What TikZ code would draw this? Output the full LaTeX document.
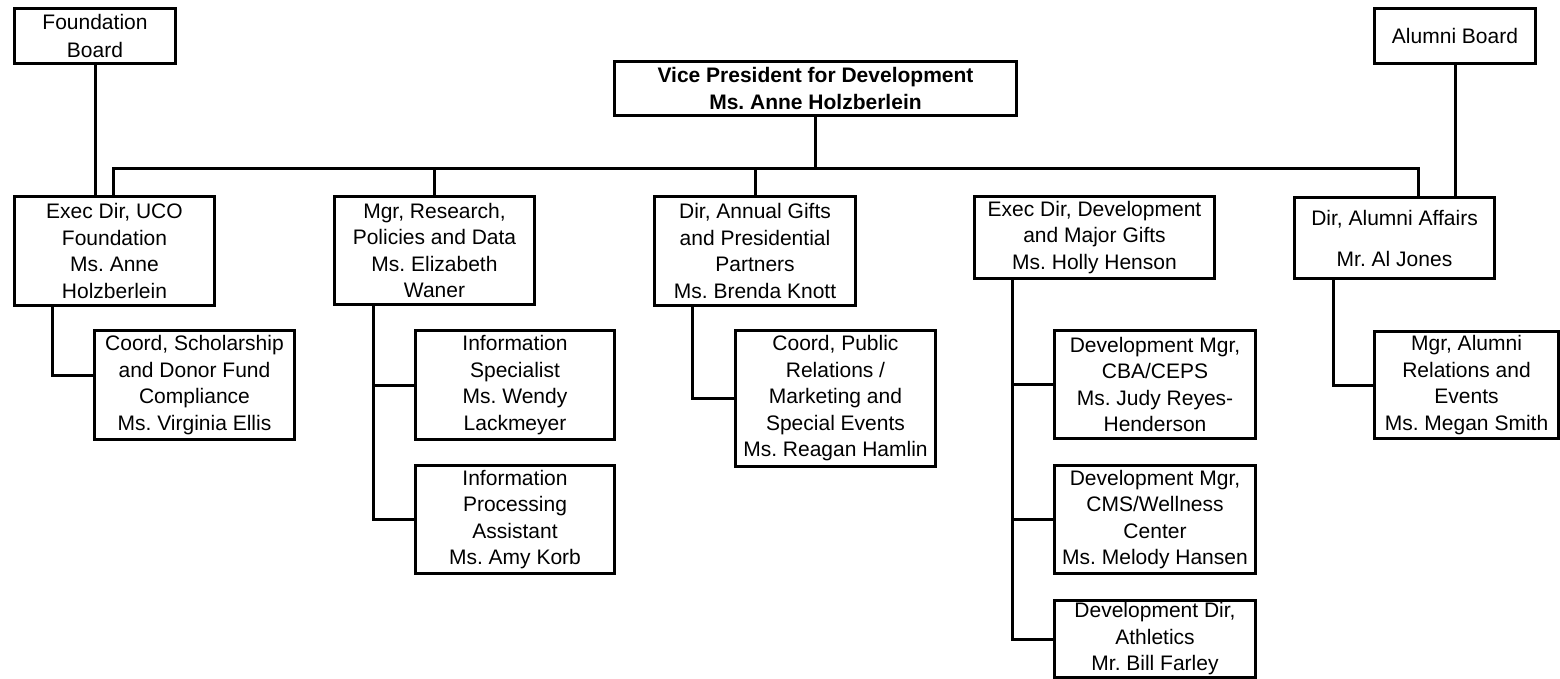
\documentclass[tikz,border=0pt]{standalone}
\usepackage{fontspec}
\setmainfont{Liberation Sans}
\usetikzlibrary{calc}
\frenchspacing
\begin{document}
\begin{tikzpicture}[x=1pt,y=-1pt,
  box/.style={draw, line width=3pt, align=center, inner sep=0pt, anchor=north west,
    font=\fontsize{21}{26.5}\selectfont},
  conn/.style={line width=3pt}]
\useasboundingbox (0,0) rectangle (1560,678);
% top boards
\node[box, minimum width=161pt, minimum height=55pt, font=\fontsize{21}{28}\selectfont] (fb) at (13,7) {Foundation\\Board};
\node[box, minimum width=161pt, minimum height=55pt] (ab) at (1373,7) {Alumni Board};
\node[box, minimum width=402pt, minimum height=54pt, font=\fontsize{21}{26.5}\selectfont\bfseries] (vp) at (613,60) {Vice President for Development\\Ms. Anne Holzberlein};
% second level
\node[box, minimum width=200pt, minimum height=109pt] (uco) at (13,195) {Exec Dir, UCO\\Foundation\\Ms. Anne\\Holzberlein};
\node[box, minimum width=200pt, minimum height=108pt] (res) at (333,195) {Mgr, Research,\\Policies and Data\\Ms. Elizabeth\\Waner};
\node[box, minimum width=201pt, minimum height=109pt] (ann) at (653,195) {Dir, Annual Gifts\\and Presidential\\Partners\\Ms. Brenda Knott};
\node[box, minimum width=240pt, minimum height=82pt] (dev) at (973,195) {Exec Dir, Development\\and Major Gifts\\Ms. Holly Henson};
\node[box, minimum width=200pt, minimum height=81pt] (alu) at (1293,196) {Dir, Alumni Affairs\\[14.5pt]Mr. Al Jones};
% third level
\node[box, minimum width=200pt, minimum height=109pt] (sch) at (93,329) {Coord, Scholarship\\and Donor Fund\\Compliance\\Ms. Virginia Ellis};
\node[box, minimum width=199pt, minimum height=109pt] (spec) at (414,329) {Information\\Specialist\\Ms. Wendy\\Lackmeyer};
\node[box, minimum width=199pt, minimum height=108pt] (proc) at (414,464) {Information\\Processing\\Assistant\\Ms. Amy Korb};
\node[box, minimum width=200pt, minimum height=136pt] (pr) at (734,329) {Coord, Public\\Relations /\\Marketing and\\Special Events\\Ms. Reagan Hamlin};
\node[box, minimum width=201pt, minimum height=108pt] (cba) at (1053,329) {Development Mgr,\\CBA/CEPS\\Ms. Judy Reyes-\\Henderson};
\node[box, minimum width=201pt, minimum height=108pt] (cms) at (1053,464) {Development Mgr,\\CMS/Wellness\\Center\\Ms. Melody Hansen};
\node[box, minimum width=201pt, minimum height=77pt] (ath) at (1053,599) {Development Dir,\\Athletics\\Mr. Bill Farley};
\node[box, minimum width=184pt, minimum height=107pt] (mal) at (1373,330) {Mgr, Alumni\\Relations and\\Events\\Ms. Megan Smith};
% bus
\coordinate (bl) at (113,168);
\coordinate (br) at (1418,168);
\draw[conn] (vp.south) -- (vp.south |- bl);
\draw[conn] (bl |- uco.north) -- (bl) -- (br) -- (br |- alu.north);
\draw[conn] (res.north |- bl) -- (res.north);
\draw[conn] (ann.north |- bl) -- (ann.north);
\draw[conn] ($(dev.north)+(-19,0)$ |- bl) -- ($(dev.north)+(-19,0)$);
% board links
\draw[conn] (fb.south) -- (fb.south |- uco.north);
\draw[conn] (ab.south) -- (ab.south |- alu.north);
% subordinates
\draw[conn] ($(uco.south west)+(39,0)$) |- ($(sch.west)+(0,-10)$);
\draw[conn] ($(res.south west)+(40,0)$) coordinate (r0) |- (proc.west);
\draw[conn] (r0 |- spec.west) -- (spec.west);
\draw[conn] ($(ann.south west)+(39,0)$) |- (pr.west);
\draw[conn] ($(dev.south west)+(39,0)$) coordinate (d0) |- (ath.west);
\draw[conn] (d0 |- cba.west) -- (cba.west);
\draw[conn] (d0 |- cms.west) -- (cms.west);
\draw[conn] ($(alu.south west)+(40,0)$) |- (mal.west);
\end{tikzpicture}
\end{document}
